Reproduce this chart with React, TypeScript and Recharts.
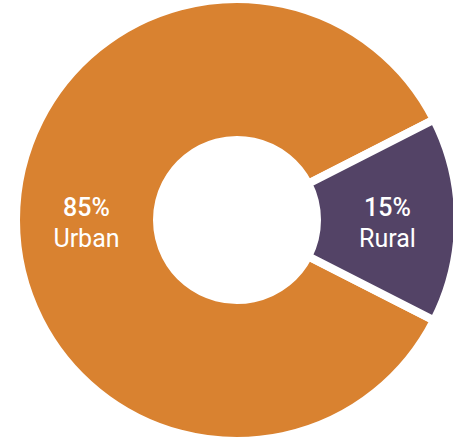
import { PieChart, Pie, Cell } from "recharts";

const regions = ["Urban", "Rural"];
const shares = [85, 15];
const colors = ["#D98230", "#534366"];

const data = regions.map((name, i) => ({ name, value: shares[i] }));

const RAD = Math.PI / 180;

function renderLabel(props: any) {
  const { cx, cy, midAngle, innerRadius, outerRadius, name, value } = props;
  const r = (innerRadius + outerRadius) / 2;
  const x = cx + r * Math.cos(-midAngle * RAD);
  const y = cy + r * Math.sin(-midAngle * RAD);
  return (
    <text x={x} y={y} fill="#fff" textAnchor="middle" fontFamily="Roboto" fontSize={25}>
      <tspan x={x} y={y - 4} fontWeight={500}>{value}%</tspan>
      <tspan x={x} y={y + 27}>{name}</tspan>
    </text>
  );
}

export default function App() {
  return (
    <div style={{ width: 453, height: 442 }}>
      <style>{"body{margin:0}"}</style>
      <PieChart width={453} height={442} margin={{ top: 0, right: 0, bottom: 0, left: 0 }}>
        <Pie
          data={data}
          dataKey="value"
          nameKey="name"
          cx={237}
          cy={220}
          innerRadius={80}
          outerRadius={221}
          startAngle={27}
          endAngle={387}
          stroke="#fff"
          strokeWidth={8}
          label={renderLabel}
          labelLine={false}
          isAnimationActive={false}
        >
          {data.map((d, i) => (
            <Cell key={d.name} fill={colors[i]} />
          ))}
        </Pie>
      </PieChart>
    </div>
  );
}
